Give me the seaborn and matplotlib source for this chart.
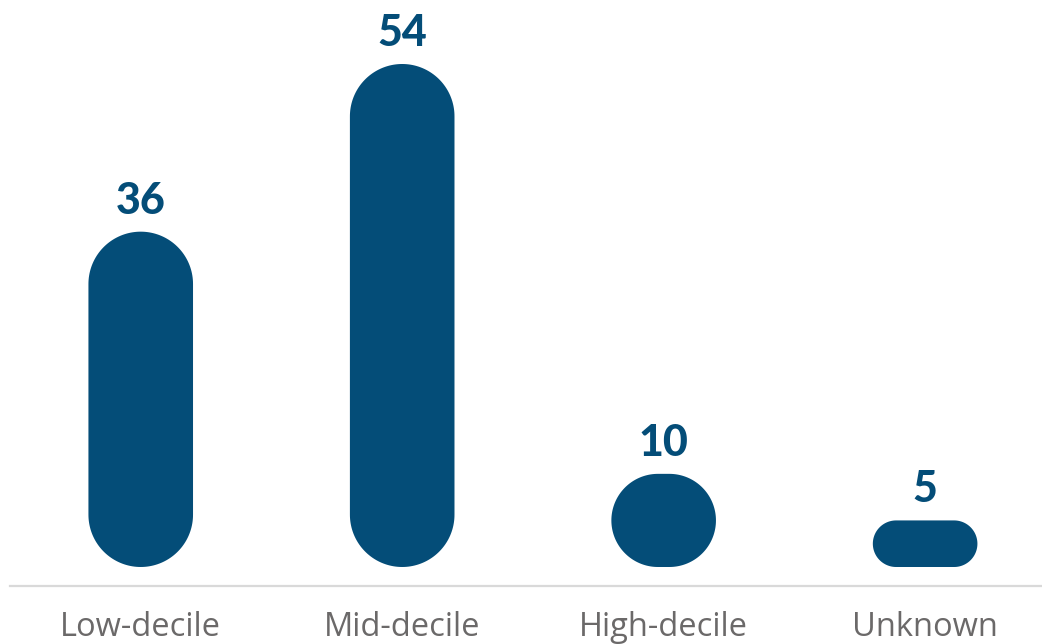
import matplotlib.pyplot as plt
import numpy as np
import pandas as pd
import seaborn as sns
from matplotlib.patches import Polygon

categories = ["Low-decile", "Mid-decile", "High-decile", "Unknown"]
values = [36, 54, 10, 5]

BAR_COLOR = "#044D78"
LABEL_GREY = "#6B6969"


def pill_outline(x, y, w, h, rx, ry, n=40):
    # corner centres, each with a quarter arc of an ellipse (circle in pixels)
    corners = [
        (x + w - rx, y + h - ry, 0.0),
        (x + rx, y + h - ry, np.pi / 2),
        (x + rx, y + ry, np.pi),
        (x + w - rx, y + ry, 1.5 * np.pi),
    ]
    pts = []
    for cx, cy, start in corners:
        t = np.linspace(start, start + np.pi / 2, n)
        pts.append(np.column_stack([cx + rx * np.cos(t), cy + ry * np.sin(t)]))
    return np.vstack(pts)


def rounded_bars(ax, fig):
    # swap seaborn's rectangles for pill shapes, round in pixel space
    fig.canvas.draw()
    trans = ax.transData
    px_x = trans.transform((1, 0))[0] - trans.transform((0, 0))[0]
    px_y = trans.transform((0, 1))[1] - trans.transform((0, 0))[1]
    for bar in list(ax.patches):
        x, y = bar.get_x(), bar.get_y()
        w, h = bar.get_width(), bar.get_height()
        r_px = min(w * px_x, h * px_y) / 2
        pts = pill_outline(x, y, w, h, r_px / px_x, r_px / px_y)
        bar.remove()
        ax.add_patch(Polygon(pts, closed=True, facecolor=BAR_COLOR,
                             edgecolor="none"))


df = pd.DataFrame({"category": categories, "value": values})

sns.set_style("white")
fig = plt.figure(figsize=(10.42, 6.44), dpi=100)
ax = fig.add_axes([10 / 1042, 58 / 644, 1032 / 1042, 586 / 644])

sns.barplot(data=df, x="category", y="value", color=BAR_COLOR, width=0.40,
            saturation=1, ax=ax)

ax.set_xlim(-0.5, 3.447)
ax.set_ylim(-2.04, 60.87)

rounded_bars(ax, fig)

for i, v in enumerate(values):
    ax.annotate(str(v), (i, v), xytext=(0, 8), textcoords="offset points",
                ha="center", va="bottom", fontsize=31, fontweight="black",
                family="Lato", color=BAR_COLOR)

sns.despine(ax=ax, left=True)
ax.spines["bottom"].set_color("#D9D9D9")
ax.spines["bottom"].set_linewidth(1.6)
ax.set_yticks([])
ax.set_xlabel("")
ax.set_ylabel("")
ax.tick_params(axis="x", length=0, pad=18, labelsize=23.5, labelcolor=LABEL_GREY)
for t in ax.get_xticklabels():
    t.set_fontfamily("Open Sans")

fig.savefig("out.png", dpi=100)
